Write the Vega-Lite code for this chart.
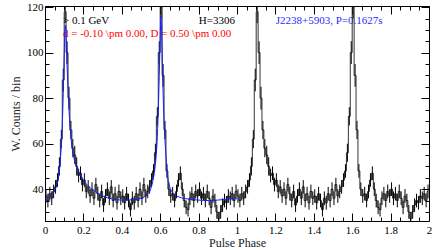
{
  "$schema": "https://vega.github.io/schema/vega-lite/v6.json",
  "width": 384,
  "height": 215,
  "autosize": "none",
  "padding": {"left": 45, "top": 6, "right": 7, "bottom": 29},
  "background": "white",
  "config": {
    "view": {"stroke": "black", "strokeWidth": 1},
    "font": "Liberation Serif",
    "axis": {"domain": false, "grid": false, "tickColor": "black", "tickWidth": 1, "labelFont": "Liberation Serif", "labelFontSize": 11, "labelColor": "black", "titleFont": "Liberation Serif", "titleFontSize": 12, "titleFontWeight": "normal", "titleColor": "#222", "labelOverlap": false, "labelBound": false, "labelFlush": false}
  },
  "datasets": {
    "hist": [
      {"p":0.005,"c":37,"e":3},{"p":0.015,"c":35,"e":3},{"p":0.025,"c":38,"e":3},{"p":0.035,"c":36,"e":3},{"p":0.045,"c":39,"e":3},{"p":0.055,"c":41,"e":3},{"p":0.065,"c":44,"e":3},{"p":0.075,"c":50,"e":4},{"p":0.085,"c":62,"e":4},{"p":0.095,"c":88,"e":5},
      {"p":0.105,"c":118,"e":5},{"p":0.115,"c":100,"e":5},{"p":0.125,"c":80,"e":5},{"p":0.135,"c":66,"e":4},{"p":0.145,"c":58,"e":4},{"p":0.155,"c":55,"e":4},{"p":0.165,"c":50,"e":4},{"p":0.175,"c":46,"e":3},{"p":0.185,"c":47,"e":3},{"p":0.195,"c":42,"e":3},
      {"p":0.205,"c":44,"e":3},{"p":0.215,"c":39,"e":3},{"p":0.225,"c":41,"e":3},{"p":0.235,"c":37,"e":3},{"p":0.245,"c":40,"e":3},{"p":0.255,"c":36,"e":3},{"p":0.265,"c":42,"e":3},{"p":0.275,"c":38,"e":3},{"p":0.285,"c":35,"e":3},{"p":0.295,"c":39,"e":3},
      {"p":0.305,"c":33,"e":3},{"p":0.315,"c":37,"e":3},{"p":0.325,"c":40,"e":3},{"p":0.335,"c":36,"e":3},{"p":0.345,"c":41,"e":3},{"p":0.355,"c":35,"e":3},{"p":0.365,"c":38,"e":3},{"p":0.375,"c":34,"e":3},{"p":0.385,"c":39,"e":3},{"p":0.395,"c":36,"e":3},
      {"p":0.405,"c":37,"e":3},{"p":0.415,"c":34,"e":3},{"p":0.425,"c":38,"e":3},{"p":0.435,"c":35,"e":3},{"p":0.445,"c":31,"e":3},{"p":0.455,"c":36,"e":3},{"p":0.465,"c":34,"e":3},{"p":0.475,"c":38,"e":3},{"p":0.485,"c":35,"e":3},{"p":0.495,"c":40,"e":3},
      {"p":0.505,"c":36,"e":3},{"p":0.515,"c":42,"e":3},{"p":0.525,"c":37,"e":3},{"p":0.535,"c":39,"e":3},{"p":0.545,"c":41,"e":3},{"p":0.555,"c":44,"e":3},{"p":0.565,"c":48,"e":3},{"p":0.575,"c":56,"e":4},{"p":0.585,"c":72,"e":4},{"p":0.595,"c":100,"e":5},
      {"p":0.605,"c":120,"e":5},{"p":0.615,"c":90,"e":5},{"p":0.625,"c":66,"e":4},{"p":0.635,"c":48,"e":3},{"p":0.645,"c":40,"e":3},{"p":0.655,"c":37,"e":3},{"p":0.665,"c":38,"e":3},{"p":0.675,"c":35,"e":3},{"p":0.685,"c":39,"e":3},{"p":0.695,"c":44,"e":3},
      {"p":0.705,"c":47,"e":3},{"p":0.715,"c":40,"e":3},{"p":0.725,"c":35,"e":3},{"p":0.735,"c":32,"e":3},{"p":0.745,"c":31,"e":3},{"p":0.755,"c":36,"e":3},{"p":0.765,"c":38,"e":3},{"p":0.775,"c":35,"e":3},{"p":0.785,"c":39,"e":3},{"p":0.795,"c":37,"e":3},
      {"p":0.805,"c":40,"e":3},{"p":0.815,"c":36,"e":3},{"p":0.825,"c":38,"e":3},{"p":0.835,"c":35,"e":3},{"p":0.845,"c":39,"e":3},{"p":0.855,"c":36,"e":3},{"p":0.865,"c":32,"e":3},{"p":0.875,"c":37,"e":3},{"p":0.885,"c":35,"e":3},{"p":0.895,"c":30,"e":3},
      {"p":0.905,"c":27,"e":3},{"p":0.915,"c":30,"e":3},{"p":0.925,"c":33,"e":3},{"p":0.935,"c":35,"e":3},{"p":0.945,"c":34,"e":3},{"p":0.955,"c":37,"e":3},{"p":0.965,"c":36,"e":3},{"p":0.975,"c":38,"e":3},{"p":0.985,"c":35,"e":3},{"p":0.995,"c":39,"e":3},
      {"p":1.005,"c":37,"e":3},{"p":1.015,"c":35,"e":3},{"p":1.025,"c":38,"e":3},{"p":1.035,"c":36,"e":3},{"p":1.045,"c":39,"e":3},{"p":1.055,"c":41,"e":3},{"p":1.065,"c":44,"e":3},{"p":1.075,"c":50,"e":4},{"p":1.085,"c":62,"e":4},{"p":1.095,"c":88,"e":5},
      {"p":1.105,"c":118,"e":5},{"p":1.115,"c":100,"e":5},{"p":1.125,"c":80,"e":5},{"p":1.135,"c":66,"e":4},{"p":1.145,"c":58,"e":4},{"p":1.155,"c":55,"e":4},{"p":1.165,"c":50,"e":4},{"p":1.175,"c":46,"e":3},{"p":1.185,"c":47,"e":3},{"p":1.195,"c":42,"e":3},
      {"p":1.205,"c":44,"e":3},{"p":1.215,"c":39,"e":3},{"p":1.225,"c":41,"e":3},{"p":1.235,"c":37,"e":3},{"p":1.245,"c":40,"e":3},{"p":1.255,"c":36,"e":3},{"p":1.265,"c":42,"e":3},{"p":1.275,"c":38,"e":3},{"p":1.285,"c":35,"e":3},{"p":1.295,"c":39,"e":3},
      {"p":1.305,"c":33,"e":3},{"p":1.315,"c":37,"e":3},{"p":1.325,"c":40,"e":3},{"p":1.335,"c":36,"e":3},{"p":1.345,"c":41,"e":3},{"p":1.355,"c":35,"e":3},{"p":1.365,"c":38,"e":3},{"p":1.375,"c":34,"e":3},{"p":1.385,"c":39,"e":3},{"p":1.395,"c":36,"e":3},
      {"p":1.405,"c":37,"e":3},{"p":1.415,"c":34,"e":3},{"p":1.425,"c":38,"e":3},{"p":1.435,"c":35,"e":3},{"p":1.445,"c":31,"e":3},{"p":1.455,"c":36,"e":3},{"p":1.465,"c":34,"e":3},{"p":1.475,"c":38,"e":3},{"p":1.485,"c":35,"e":3},{"p":1.495,"c":40,"e":3},
      {"p":1.505,"c":36,"e":3},{"p":1.515,"c":42,"e":3},{"p":1.525,"c":37,"e":3},{"p":1.535,"c":39,"e":3},{"p":1.545,"c":41,"e":3},{"p":1.555,"c":44,"e":3},{"p":1.565,"c":48,"e":3},{"p":1.575,"c":56,"e":4},{"p":1.585,"c":72,"e":4},{"p":1.595,"c":100,"e":5},
      {"p":1.605,"c":120,"e":5},{"p":1.615,"c":90,"e":5},{"p":1.625,"c":66,"e":4},{"p":1.635,"c":48,"e":3},{"p":1.645,"c":40,"e":3},{"p":1.655,"c":37,"e":3},{"p":1.665,"c":38,"e":3},{"p":1.675,"c":35,"e":3},{"p":1.685,"c":39,"e":3},{"p":1.695,"c":44,"e":3},
      {"p":1.705,"c":47,"e":3},{"p":1.715,"c":40,"e":3},{"p":1.725,"c":35,"e":3},{"p":1.735,"c":32,"e":3},{"p":1.745,"c":31,"e":3},{"p":1.755,"c":36,"e":3},{"p":1.765,"c":38,"e":3},{"p":1.775,"c":35,"e":3},{"p":1.785,"c":39,"e":3},{"p":1.795,"c":37,"e":3},
      {"p":1.805,"c":40,"e":3},{"p":1.815,"c":36,"e":3},{"p":1.825,"c":38,"e":3},{"p":1.835,"c":35,"e":3},{"p":1.845,"c":39,"e":3},{"p":1.855,"c":36,"e":3},{"p":1.865,"c":32,"e":3},{"p":1.875,"c":37,"e":3},{"p":1.885,"c":35,"e":3},{"p":1.895,"c":30,"e":3},
      {"p":1.905,"c":27,"e":3},{"p":1.915,"c":30,"e":3},{"p":1.925,"c":33,"e":3},{"p":1.935,"c":35,"e":3},{"p":1.945,"c":34,"e":3},{"p":1.955,"c":37,"e":3},{"p":1.965,"c":36,"e":3},{"p":1.975,"c":38,"e":3},{"p":1.985,"c":35,"e":3},{"p":1.995,"c":39,"e":3}
    ],
    "fit": [
      {"p":0.0,"f":35.8},{"p":0.02,"f":36.5},{"p":0.04,"f":38},{"p":0.06,"f":41.5},{"p":0.07,"f":45},{"p":0.08,"f":53},{"p":0.09,"f":68},{"p":0.095,"f":82},{"p":0.1,"f":99},{"p":0.106,"f":112},
      {"p":0.111,"f":104},{"p":0.116,"f":92},{"p":0.121,"f":82},{"p":0.13,"f":68},{"p":0.14,"f":59},{"p":0.15,"f":54},{"p":0.165,"f":50},{"p":0.18,"f":47},{"p":0.2,"f":44},{"p":0.23,"f":41},
      {"p":0.26,"f":39},{"p":0.3,"f":37},{"p":0.35,"f":35.7},{"p":0.4,"f":35.2},{"p":0.45,"f":35.3},{"p":0.5,"f":36},{"p":0.53,"f":37.5},{"p":0.55,"f":40},{"p":0.565,"f":45},{"p":0.575,"f":51},
      {"p":0.585,"f":63},{"p":0.592,"f":80},{"p":0.598,"f":100},{"p":0.604,"f":116},{"p":0.609,"f":103},{"p":0.614,"f":86},{"p":0.62,"f":70},{"p":0.63,"f":55},{"p":0.64,"f":45},{"p":0.65,"f":41},
      {"p":0.67,"f":38},{"p":0.7,"f":36.5},{"p":0.75,"f":35.6},{"p":0.8,"f":35.2},{"p":0.85,"f":35},{"p":0.9,"f":35.2},{"p":0.95,"f":35.6},{"p":1.0,"f":35.8}
    ]
  },
  "resolve": {"axis": {"x": "independent", "y": "independent"}},
  "layer": [
    {
      "mark": {"type": "text", "align": "left", "baseline": "middle", "font": "Liberation Serif", "fontSize": 11, "color": "black"},
      "data": {"values": [{"t": "> 0.1 GeV"}]},
      "encoding": {
        "x": {"datum": 0.0936, "type": "quantitative", "axis": null},
        "y": {"datum": 113.7, "type": "quantitative", "axis": null},
        "text": {"field": "t"}
      }
    },
    {
      "mark": {"type": "text", "align": "left", "baseline": "middle", "font": "Liberation Serif", "fontSize": 11, "color": "#ff0000"},
      "data": {"values": [{"t": "d = -0.10 \\pm 0.00,  D = 0.50 \\pm 0.00"}]},
      "encoding": {
        "x": {"datum": 0.0936, "type": "quantitative", "axis": null},
        "y": {"datum": 108.4, "type": "quantitative", "axis": null},
        "text": {"field": "t"}
      }
    },
    {
      "mark": {"type": "text", "align": "left", "baseline": "middle", "font": "Liberation Serif", "fontSize": 11, "color": "black"},
      "data": {"values": [{"t": "H=3306"}]},
      "encoding": {
        "x": {"datum": 0.801, "type": "quantitative", "axis": null},
        "y": {"datum": 113.7, "type": "quantitative", "axis": null},
        "text": {"field": "t"}
      }
    },
    {
      "mark": {"type": "text", "align": "left", "baseline": "middle", "font": "Liberation Serif", "fontSize": 11, "color": "#2b2bff"},
      "data": {"values": [{"t": "J2238+5903, P=0.1627s"}]},
      "encoding": {
        "x": {"datum": 1.2016, "type": "quantitative", "axis": null},
        "y": {"datum": 113.7, "type": "quantitative", "axis": null},
        "text": {"field": "t"}
      }
    },
    {
      "data": {"name": "hist"},
      "mark": {"type": "line", "interpolate": "step", "color": "#333", "strokeWidth": 1, "clip": true},
      "encoding": {
        "x": {"field": "p", "type": "quantitative", "scale": {"domain": [0, 2], "nice": false, "zero": false},
          "axis": {"orient": "bottom", "title": "Pulse Phase", "titlePadding": 2, "labelFont": "Liberation Serif", "titleFont": "Liberation Serif", "labelFontSize": 11, "titleFontSize": 12,
            "encode": {"labels": {"update": {"font": {"value": "Liberation Serif"}}}},
            "values": [0,0.05,0.1,0.15,0.2,0.25,0.3,0.35,0.4,0.45,0.5,0.55,0.6,0.65,0.7,0.75,0.8,0.85,0.9,0.95,1,1.05,1.1,1.15,1.2,1.25,1.3,1.35,1.4,1.45,1.5,1.55,1.6,1.65,1.7,1.75,1.8,1.85,1.9,1.95,2],
            "labelExpr": "abs(datum.value*5 - round(datum.value*5)) < 0.001 ? format(datum.value, '~g') : ''",
            "tickSize": {"condition": {"test": "abs(datum.value*5 - round(datum.value*5)) < 0.001", "value": -8}, "value": -4},
            "labelPadding": {"condition": {"test": "abs(datum.value*5 - round(datum.value*5)) < 0.001", "value": 11}, "value": 7}}},
        "y": {"field": "c", "type": "quantitative", "scale": {"domain": [26, 120.5], "nice": false, "zero": false},
          "axis": {"orient": "left", "title": "W. Counts / bin", "titlePadding": 4, "labelFont": "Liberation Serif", "titleFont": "Liberation Serif", "labelFontSize": 11, "titleFontSize": 12,
            "encode": {"labels": {"update": {"font": {"value": "Liberation Serif"}}}},
            "values": [30,35,40,45,50,55,60,65,70,75,80,85,90,95,100,105,110,115,120],
            "labelExpr": "datum.value % 20 == 0 ? datum.label : ''",
            "tickSize": {"condition": {"test": "datum.value % 20 == 0", "value": -8}, "value": -4},
            "labelPadding": {"condition": {"test": "datum.value % 20 == 0", "value": 10}, "value": 6}}}
      }
    },
    {
      "data": {"name": "hist"},
      "mark": {"type": "errorbar", "color": "black", "thickness": 1, "clip": true},
      "encoding": {
        "x": {"field": "p", "type": "quantitative", "axis": null},
        "y": {"field": "c", "type": "quantitative", "axis": null},
        "yError": {"field": "e"}
      }
    },
    {
      "data": {"name": "fit"},
      "mark": {"type": "line", "interpolate": "monotone", "color": "#1a1aff", "strokeWidth": 1, "clip": true},
      "encoding": {
        "x": {"field": "p", "type": "quantitative", "scale": {"domain": [0, 2], "nice": false, "zero": false},
          "axis": {"orient": "top", "title": null, "labels": false,
            "values": [0,0.05,0.1,0.15,0.2,0.25,0.3,0.35,0.4,0.45,0.5,0.55,0.6,0.65,0.7,0.75,0.8,0.85,0.9,0.95,1,1.05,1.1,1.15,1.2,1.25,1.3,1.35,1.4,1.45,1.5,1.55,1.6,1.65,1.7,1.75,1.8,1.85,1.9,1.95,2],
            "tickSize": {"condition": {"test": "abs(datum.value*5 - round(datum.value*5)) < 0.001", "value": -8}, "value": -4}}},
        "y": {"field": "f", "type": "quantitative", "scale": {"domain": [26, 120.5], "nice": false, "zero": false},
          "axis": {"orient": "right", "title": null, "labels": false,
            "values": [30,35,40,45,50,55,60,65,70,75,80,85,90,95,100,105,110,115,120],
            "tickSize": {"condition": {"test": "datum.value % 20 == 0", "value": -8}, "value": -4}}}
      }
    },
    {
      "mark": {"type": "rule", "color": "black", "strokeWidth": 1, "strokeDash": [2, 2]},
      "encoding": {
        "x": {"datum": 0, "type": "quantitative", "axis": null},
        "x2": {"datum": 2},
        "y": {"datum": 34, "type": "quantitative", "axis": null}
      }
    }
  ]
}
